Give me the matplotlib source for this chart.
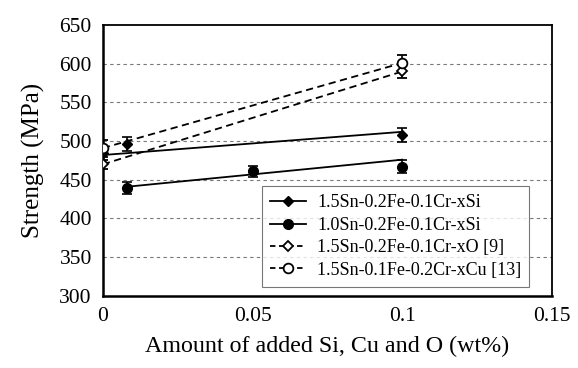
import numpy as np
import matplotlib.pyplot as plt

plt.rcParams['font.family'] = ['Liberation Serif', 'DejaVu Serif']

# 1.5Sn-0.2Fe-0.1Cr-xSi
si15_x = [0, 0.008, 0.1]
si15_y = [484, 496, 508]
si15_err = [0, 9, 9]
si15_fit_x = [0, 0.1]
si15_fit_y = [482, 512]

# 1.0Sn-0.2Fe-0.1Cr-xSi
si10_x = [0.008, 0.05, 0.1]
si10_y = [439, 461, 467]
si10_err = [8, 7, 8]
si10_fit_x = [0.008, 0.1]
si10_fit_y = [441, 476]

# 1.5Sn-0.2Fe-0.1Cr-xO [9]
o_x = [0, 0.1]
o_y = [470, 590]
o_err = [6, 8]

# 1.5Sn-0.1Fe-0.2Cr-xCu [13]
cu_x = [0, 0.1]
cu_y = [491, 601]
cu_err = [11, 10]

labels = ['1.5Sn-0.2Fe-0.1Cr-xSi', '1.0Sn-0.2Fe-0.1Cr-xSi',
          '1.5Sn-0.2Fe-0.1Cr-xO [9]', '1.5Sn-0.1Fe-0.2Cr-xCu [13]']

fig = plt.figure(figsize=(5.78, 3.68), dpi=100)
ax = fig.add_axes([0.178, 0.196, 0.777, 0.736])

# linhas de tendência
ax.plot(si15_fit_x, si15_fit_y, 'k-', lw=1.3)
ax.plot(si10_fit_x, si10_fit_y, 'k-', lw=1.3)
ax.plot(o_x, o_y, 'k--', lw=1.3, dashes=(4, 2.5))
ax.plot(cu_x, cu_y, 'k--', lw=1.3, dashes=(4, 2.5))

# pontos com barras de erro
ax.errorbar(si15_x, si15_y, yerr=si15_err, fmt='D', color='k', ms=5.5,
            capsize=3.5, elinewidth=1.2, capthick=1.2, zorder=5)
ax.errorbar(si10_x, si10_y, yerr=si10_err, fmt='o', color='k', ms=7,
            capsize=3.5, elinewidth=1.2, capthick=1.2, zorder=5)
ax.errorbar(o_x, o_y, yerr=o_err, fmt='D', color='k', mfc='white', ms=5.5,
            mew=1.3, capsize=3.5, elinewidth=1.2, capthick=1.2, zorder=6)
ax.errorbar(cu_x, cu_y, yerr=cu_err, fmt='o', color='k', mfc='white', ms=7,
            mew=1.3, capsize=3.5, elinewidth=1.2, capthick=1.2, zorder=6)

# handles da legenda
h1, = ax.plot([], [], 'k-', marker='D', ms=5.5, lw=1.3)
h2, = ax.plot([], [], 'k-', marker='o', ms=7, lw=1.3)
h3, = ax.plot([], [], 'k--', marker='D', ms=5.5, mfc='white', mew=1.3, lw=1.3, dashes=(3, 2))
h4, = ax.plot([], [], 'k--', marker='o', ms=7, mfc='white', mew=1.3, lw=1.3, dashes=(3, 2))
leg = ax.legend([h1, h2, h3, h4], labels, loc='lower right',
                bbox_to_anchor=(0.97, 0.0), fontsize=13, frameon=True,
                fancybox=False, edgecolor='#555555', handlelength=2.0,
                borderpad=0.45, labelspacing=0.3, handletextpad=0.6)
leg.get_frame().set_linewidth(0.8)

ax.set_xlim(0, 0.15)
ax.set_ylim(300, 650)
ax.set_xticks([0, 0.05, 0.1, 0.15])
ax.set_xticklabels(['0', '0.05', '0.1', '0.15'])
ax.set_yticks(np.arange(300, 651, 50))
ax.tick_params(labelsize=15.5, length=0, pad=8)
for y in np.arange(350, 601, 50):
    ax.axhline(y, color='#777777', ls=(0, (3, 3)), lw=0.8, zorder=0)

for s in ['left', 'bottom']:
    ax.spines[s].set_linewidth(1.8)
for s in ['top', 'right']:
    ax.spines[s].set_linewidth(1.3)

ax.set_xlabel('Amount of added Si, Cu and O (wt%)', fontsize=17.3, labelpad=7)
ax.set_ylabel('Strength (MPa)', fontsize=18, labelpad=10)

fig.savefig('out.png', dpi=100)
